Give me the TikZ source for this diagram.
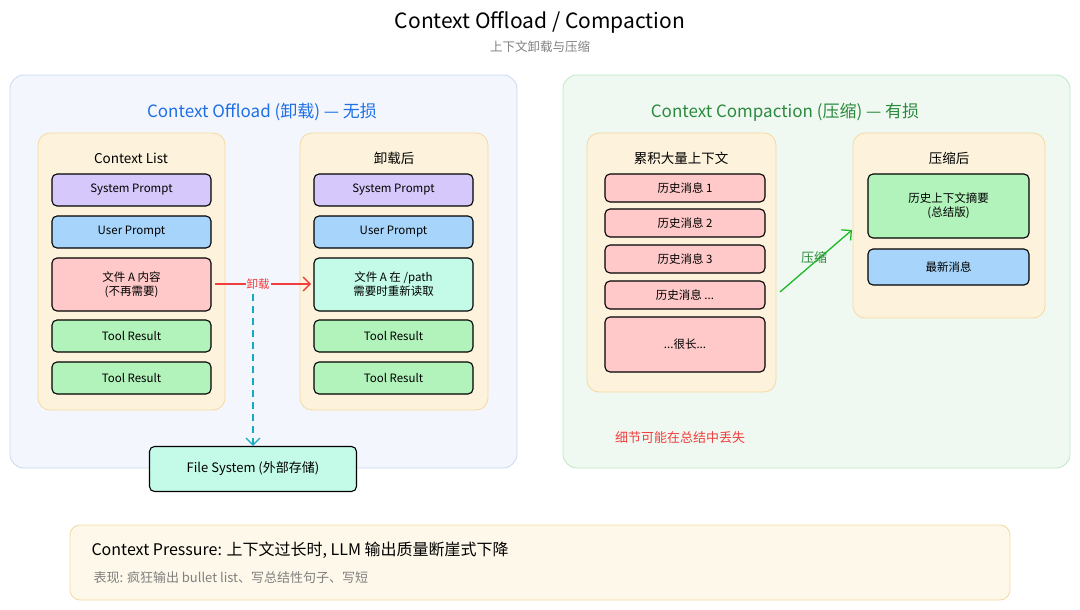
\documentclass[tikz,border=0pt]{standalone}
\usepackage{fontspec}
\setmainfont{Noto Sans CJK SC}
\usetikzlibrary{arrows.meta}
\definecolor{panelB}{HTML}{F3F6FD}
\definecolor{panelBd}{HTML}{C8D8F5}
\definecolor{panelG}{HTML}{F0F9F1}
\definecolor{panelGd}{HTML}{BDE7C4}
\definecolor{cont}{HTML}{FDF3DC}
\definecolor{contd}{HTML}{F5D9A0}
\definecolor{cpurple}{HTML}{D6C8FA}
\definecolor{cblue}{HTML}{A6D4FA}
\definecolor{cpink}{HTML}{FFC9C9}
\definecolor{cgreen}{HTML}{B2F2BB}
\definecolor{cmint}{HTML}{C3FAE8}
\definecolor{tblue}{HTML}{1E6FE6}
\definecolor{tgreen}{HTML}{2B8A3E}
\definecolor{tred}{HTML}{F03E3E}
\definecolor{tcyan}{HTML}{15AABF}
\newcommand{\dotsmsg}{...}
\begin{document}
\begin{tikzpicture}[
        x = 1pt, y = -1pt, % pixel grid
        > = {Straight Barb[length=7pt]},
        font = \fontsize{11.5}{14}\selectfont
    ]

    \tikzset{
        panel/.style = {draw = #1, rounded corners = 14pt, line width = 0.8pt},
        column/.style = {draw = contd, fill = cont, rounded corners = 12pt, line width = 0.8pt},
        item/.style = {draw = black, line width = 1.1pt, rounded corners = 5pt, fill = #1}
    }

    \useasboundingbox (0,0) rectangle (1080,610);

    \node (title) at (540,22) {\fontsize{21}{24}\selectfont Context Offload / Compaction};
    \node[gray] (subtitle) at (540,47) {\fontsize{12.5}{15}\selectfont 上下文卸载与压缩};

    % offload panel
    \draw[panel = panelBd, fill = panelB] (10,75) rectangle (517,468);
    \node[tblue] (offtitle) at (262,112) {\fontsize{17}{20}\selectfont Context Offload (卸载) — 无损};
    \draw[column] (38,133) rectangle (225,410);
    \node (listhead) at (131,158) {\fontsize{13.5}{16}\selectfont Context List};
    \draw[column] (300,133) rectangle (488,410);
    \node (afterhead) at (394,158) {\fontsize{13.5}{16}\selectfont 卸载后};

    \foreach \x/\n in {52/a, 314/b} {
        \draw[item = cpurple] (\x,174) rectangle ++(159,32) node[midway] (sys\n) {System Prompt};
        \draw[item = cblue] (\x,216) rectangle ++(159,32) node[midway] (user\n) {User Prompt};
        \draw[item = cgreen] (\x,320) rectangle ++(159,32) node[midway] (toolx\n) {Tool Result};
        \draw[item = cgreen] (\x,362) rectangle ++(159,32) node[midway] (tooly\n) {Tool Result};
    }
    \draw[item = cpink] (52,258) rectangle (211,311) node[midway, align = center] (filea) {文件 \textit{A} 内容\\(不再需要)};
    \draw[item = cmint] (314,258) rectangle (473,311) node[midway, align = center] (fileb) {文件 \textit{A} 在 /path\\需要时重新读取};
    \node[draw = black, line width = 1.1pt, rounded corners = 5pt, fill = cmint,
        minimum width = 207pt, minimum height = 45pt] (fs) at (253,469) {\fontsize{13}{15}\selectfont File System (外部存储)};

    \coordinate (fileaend) at (215,284);
    \coordinate (fileapt) at (311,284);
    \draw[tcyan, line width = 1.3pt, dash pattern = on 7pt off 5pt, ->]
        (fileaend) -- ++(38,0) -- (fs.north);
    \draw[tred, line width = 1.3pt, ->] (fileaend) -- (fileapt)
        node[pos = 0.45, fill = panelB, inner sep = 1pt] (offlabel) {卸载};

    % compaction panel
    \draw[panel = panelGd, fill = panelG] (563,75) rectangle (1070,468);
    \node[tgreen] (comptitle) at (785,112) {\fontsize{17}{20}\selectfont Context Compaction (压缩) — 有损};
    \draw[column] (587,133) rectangle (776,392);
    \node (accumhead) at (681,158) {\fontsize{13.5}{16}\selectfont 累积大量上下文};
    \foreach \y/\t/\n in {174/1/h1, 209/2/h2, 245/3/h3, 281/\dotsmsg/h4} {
        \draw[item = cpink] (605,\y) rectangle ++(160,28) node[midway] (\n) {历史消息 \t};
    }
    \draw[item = cpink] (605,317) rectangle (765,372) node[midway] (longmsg) {\dotsmsg 很长\dotsmsg};
    \draw[column] (853,133) rectangle (1045,318);
    \node (comphead) at (949,158) {\fontsize{13.5}{16}\selectfont 压缩后};
    \draw[item = cgreen] (868,174) rectangle (1029,238) node[midway, align = center] (summary) {历史上下文摘要\\(总结版)};
    \draw[item = cblue] (868,249) rectangle (1029,285) node[midway] (latest) {最新消息};
    \coordinate (compfrom) at (780,292);
    \coordinate (compto) at (852,230);
    \draw[tgreen!60!green, line width = 1.3pt, ->] (compfrom) -- (compto);
    \node[tgreen] (complabel) at (814,258) {\fontsize{13}{15}\selectfont 压缩};
    \node[tred] (lossnote) at (680,438) {\fontsize{13}{15}\selectfont 细节可能在总结中丢失};

    % pressure note
    \draw[panel = contd, fill = cont!60!white, rounded corners = 10pt] (70,525) rectangle (1010,600);
    \node[anchor = west] (pressure) at (88,550) {\fontsize{16}{19}\selectfont Context Pressure: 上下文过长时, \textit{LLM} 输出质量断崖式下降};
    \node[anchor = west, gray] (symptom) at (90,578) {\fontsize{13}{15}\selectfont 表现: 疯狂输出 bullet list、写总结性句子、写短};
\end{tikzpicture}
\end{document}
